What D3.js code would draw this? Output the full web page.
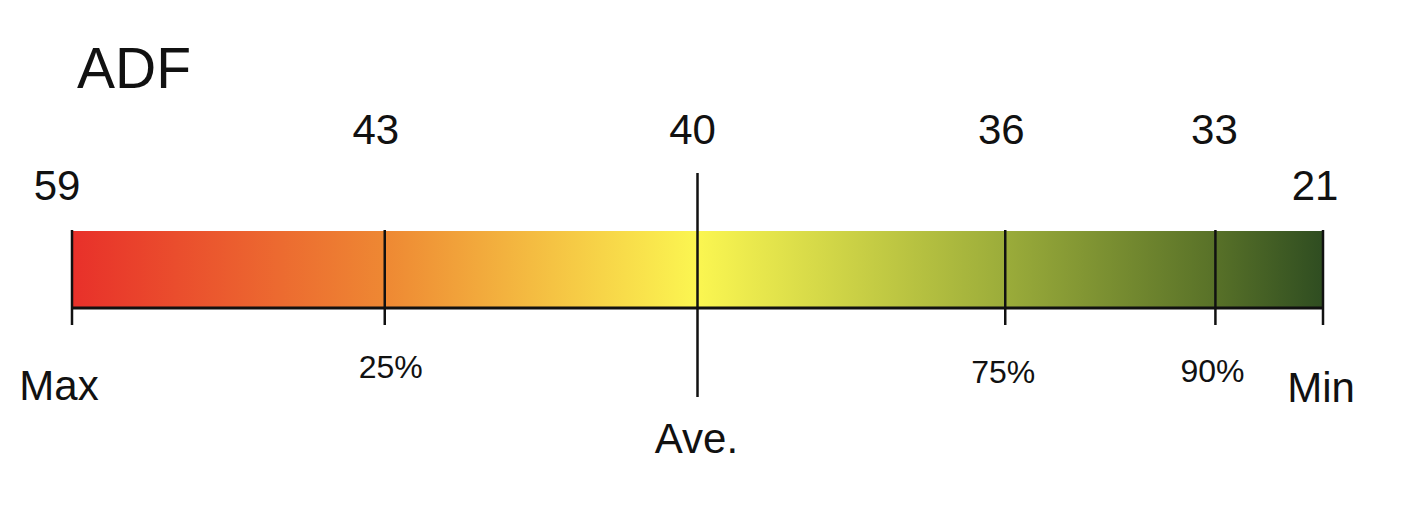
<!DOCTYPE html>
<html>
<head>
<meta charset="utf-8">
<script src="https://cdn.jsdelivr.net/npm/d3@7"></script>
<style>
  html, body { margin: 0; padding: 0; background: #ffffff; }
  svg { display: block; font-family: "Liberation Sans", Arial, sans-serif; }
</style>
</head>
<body>
<svg id="chart" width="1426" height="516"></svg>
<script>
// ---- data ----
const title = "ADF";
const percentiles = [0, 25, 50, 74.6, 91.4, 100];          // position along bar (percent)
const values = [59, 43, 40, 36, 33, 21];                    // ADF value at each marker
const markerLabels = ["Max", "25%", "Ave.", "75%", "90%", "Min"];
const gradientStops = [0, 25, 50, 74.6, 91.4, 100];
const gradientColors = ["#e8302a", "#ee8833", "#fbf651", "#9bac3a", "#587128", "#2f4d21"];

// ---- layout ----
const svg = d3.select("#chart");
const x = d3.scaleLinear().domain([0, 100]).range([72, 1323]);
const barTop = 231, barBottom = 308;

const defs = svg.append("defs");
const grad = defs.append("linearGradient").attr("id", "g")
  .attr("x1", "0%").attr("x2", "100%").attr("y1", "0%").attr("y2", "0%");
grad.selectAll("stop").data(gradientStops).join("stop")
  .attr("offset", d => d + "%")
  .attr("stop-color", (d, i) => gradientColors[i]);

svg.append("text").attr("x", 77).attr("y", 88)
  .attr("font-size", 57).attr("fill", "#111").text(title);

svg.append("rect")
  .attr("x", x(0)).attr("y", barTop)
  .attr("width", x(100) - x(0)).attr("height", barBottom - barTop)
  .attr("fill", "url(#g)");

// bottom axis line
svg.append("line")
  .attr("x1", x(0)).attr("x2", x(100))
  .attr("y1", barBottom).attr("y2", barBottom)
  .attr("stroke", "#111").attr("stroke-width", 3);

// marker lines
svg.selectAll("line.mark").data(percentiles).join("line")
  .attr("class", "mark")
  .attr("x1", d => x(d)).attr("x2", d => x(d))
  .attr("y1", (d, i) => i === 2 ? 173 : 230)
  .attr("y2", (d, i) => i === 2 ? 397 : 325)
  .attr("stroke", "#111").attr("stroke-width", 2.5);

// value labels (top)
const valDx = [-15, -9, -5, -4, -1, -8];
svg.selectAll("text.val").data(values).join("text")
  .attr("class", "val")
  .attr("x", (d, i) => x(percentiles[i]) + valDx[i])
  .attr("y", (d, i) => (i === 0 || i === values.length - 1) ? 200 : 144)
  .attr("text-anchor", "middle")
  .attr("font-size", 42).attr("fill", "#111")
  .text(d => d);

// marker labels (bottom)
const labDx = [-13, 6, -1, -2, -3, -2];
const labY = [400, 378, 453, 383, 382, 402];
const labSize = [42, 32, 42, 32, 32, 42];
svg.selectAll("text.lab").data(markerLabels).join("text")
  .attr("class", "lab")
  .attr("x", (d, i) => x(percentiles[i]) + labDx[i])
  .attr("y", (d, i) => labY[i])
  .attr("text-anchor", "middle")
  .attr("font-size", (d, i) => labSize[i]).attr("fill", "#111")
  .text(d => d);
</script>
</body>
</html>
